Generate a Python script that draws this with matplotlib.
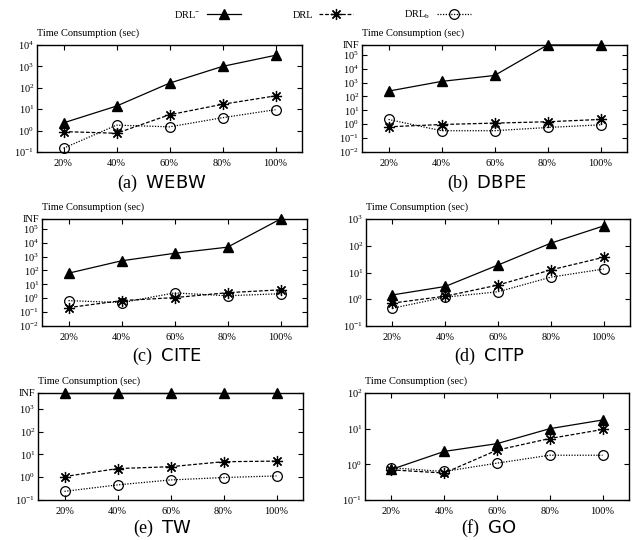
import matplotlib
matplotlib.use('Agg')
import matplotlib.pyplot as plt
import numpy as np

plt.rcParams['font.family'] = ['Liberation Serif', 'DejaVu Serif']
plt.rcParams['mathtext.fontset'] = 'custom'
plt.rcParams['mathtext.rm'] = 'Liberation Serif'
plt.rcParams['mathtext.it'] = 'Liberation Serif:italic'
plt.rcParams['mathtext.sf'] = 'DejaVu Sans'

INF = float('inf')

x_labels = ['20%', '40%', '60%', '80%', '100%']
series_names = ['DRL$^{-}$', 'DRL', 'DRL$_{\\mathrm{b}}$']

webw_drlm = [2.3, 14, 165, 1000, 3300]
webw_drl = [0.9, 0.75, 5.5, 17, 42]
webw_drlb = [0.15, 1.8, 1.5, 4.0, 9.5]

dbpe_drlm = [240, 1200, 3200, INF, INF]
dbpe_drl = [0.65, 0.95, 1.2, 1.5, 2.2]
dbpe_drlb = [2.2, 0.34, 0.34, 0.58, 0.9]

cite_drlm = [63, 490, 1700, 4700, INF]
cite_drl = [0.21, 0.67, 1.1, 2.5, 4.0]
cite_drlb = [0.67, 0.48, 2.4, 1.5, 2.1]

citp_drlm = [1.45, 3.0, 19, 125, 550]
citp_drl = [0.72, 1.3, 3.4, 12.5, 37]
citp_drlb = [0.46, 1.2, 1.9, 6.7, 13.5]

tw_drlm = [INF, INF, INF, INF, INF]
tw_drl = [1.07, 2.4, 2.9, 4.8, 5.1]
tw_drlb = [0.24, 0.46, 0.76, 0.97, 1.14]

go_drlm = [0.72, 2.3, 3.8, 10, 17.5]
go_drl = [0.7, 0.57, 2.5, 5.3, 9.5]
go_drlb = [0.8, 0.63, 1.08, 1.8, 1.8]

# (caption, name, data, lowest decade, highest decade, has INF row)
panels = [
    ('(a)', 'WEBW', (webw_drlm, webw_drl, webw_drlb), -1, 4, False),
    ('(b)', 'DBPE', (dbpe_drlm, dbpe_drl, dbpe_drlb), -2, 5, True),
    ('(c)', 'CITE', (cite_drlm, cite_drl, cite_drlb), -2, 5, True),
    ('(d)', 'CITP', (citp_drlm, citp_drl, citp_drlb), -1, 3, False),
    ('(e)', 'TW', (tw_drlm, tw_drl, tw_drlb), -1, 3, True),
    ('(f)', 'GO', (go_drlm, go_drl, go_drlb), -1, 2, False),
]

# axes boxes in pixels: left, top, right, bottom
boxes = [(37, 45, 302, 152), (362, 45, 627, 152),
         (42, 219, 307, 326), (366, 219, 630, 326),
         (38, 393, 303, 500), (365, 393, 629, 500)]
caption_y = [183, 183, 356, 356, 528, 528]

W, H = 639, 540
fig = plt.figure(figsize=(W / 100, H / 100), dpi=100)

styles = [dict(ls='-', marker='^', ms=6.5, mfc='black', mec='black'),
          dict(ls=(0, (3, 1.5)), marker=(8, 2, 0), ms=8, mew=0.9),
          dict(ls=(0, (1, 1.2)), marker='o', ms=7, mfc='none', mec='black', mew=0.9)]

xs = np.arange(1, 6)
for i, (cap, name, data, lo, hi, has_inf) in enumerate(panels):
    l, t, r, b = boxes[i]
    ax = fig.add_axes([l / W, (H - b) / H, (r - l) / W, (b - t) / H])
    top = 5 * 10.0 ** hi if has_inf else 10.0 ** hi
    for vals, st, lab in zip(data, styles, series_names):
        v = [top if np.isinf(y) else y for y in vals]
        ax.plot(xs, v, color='black', lw=0.9, clip_on=False, label=lab, **st)
    ax.set_yscale('log')
    ax.set_ylim(10.0 ** lo, top)
    ax.set_xlim(0.5, 5.5)
    ticks = [10.0 ** k for k in range(lo, hi + 1)]
    labels = ['$10^{%d}$' % k for k in range(lo, hi + 1)]
    if has_inf:
        ticks.append(top)
        labels.append('INF')
    ax.set_yticks(ticks)
    ax.set_yticklabels(labels)
    ax.yaxis.set_minor_locator(matplotlib.ticker.NullLocator())
    ax.set_xticks(xs)
    ax.set_xticklabels(x_labels)
    ax.tick_params(direction='in', length=3.5, width=0.8, labelsize=7.5,
                   top=True, right=True, pad=5)
    ax.tick_params(axis='y', pad=2)
    for s in ax.spines.values():
        s.set_linewidth(1.0)
    fig.text(l / W, 1 - (t - 7) / H, 'Time Consumption (sec)', fontsize=7.5,
             ha='left', va='bottom')
    cx = (l + r) / 2 - 8
    fig.text(cx / W, 1 - caption_y[i] / H, cap + '  $\\mathsf{' + name + '}$',
             fontsize=13, ha='center', va='center')
    if i == 0:
        handles, labs = ax.get_legend_handles_labels()

fig.legend(handles, labs, loc='center', bbox_to_anchor=(0.505, 1 - 15 / H),
           ncol=3, frameon=False, markerfirst=False, fontsize=7.5,
           handlelength=3.3, handletextpad=0.6, columnspacing=4.9)

fig.savefig('out.png', dpi=100)
